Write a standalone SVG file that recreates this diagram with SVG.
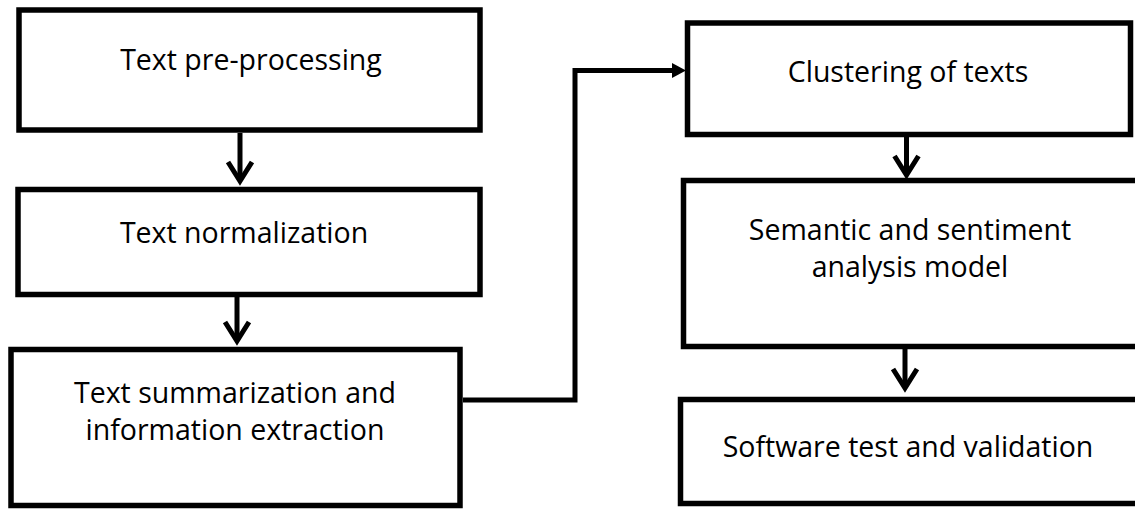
<svg xmlns="http://www.w3.org/2000/svg" width="1135" height="510" viewBox="0 0 1135 510">
<style>
.box{fill:#fff;stroke:#000;stroke-width:5.5}
.lbl{font-family:"Open Sans",Lato,sans-serif;font-size:28.5px;fill:#000;text-anchor:middle;font-variant-ligatures:none}
.ln{fill:none;stroke:#000;stroke-width:5;stroke-linejoin:miter}
.chev{fill:none;stroke:#000;stroke-width:5;stroke-linejoin:miter}
</style>
<rect width="1135" height="510" fill="#fff"/>
<g id="n1"><rect class="box" x="19" y="10" width="461" height="120"/><text class="lbl" x="251" y="70">Text pre-processing</text></g>
<g id="n2"><rect class="box" x="18" y="189.5" width="462" height="105"/><text class="lbl" x="244" y="243">Text normalization</text></g>
<g id="n3"><rect class="box" x="11" y="349.5" width="449" height="156"/><text class="lbl" x="235" y="403">Text summarization and</text><text class="lbl" x="235" y="440">information extraction</text></g>
<g id="n4"><rect class="box" x="687.5" y="23" width="443" height="111.5"/><text class="lbl" x="908" y="82">Clustering of texts</text></g>
<g id="n5"><rect class="box" x="683.5" y="180.5" width="500" height="166"/><text class="lbl" x="910" y="240">Semantic and sentiment</text><text class="lbl" x="910" y="277">analysis model</text></g>
<g id="n6"><rect class="box" x="680.5" y="399.5" width="500" height="104"/><text class="lbl" x="908" y="457">Software test and validation</text></g>
<g id="connectors">
<line class="ln" x1="240" y1="133" x2="240" y2="181"/><polyline class="chev" points="228,162 240,181 252,162"/>
<line class="ln" x1="237" y1="297" x2="237" y2="341"/><polyline class="chev" points="225,322 237,341 249,322"/>
<polyline class="ln" points="463,400 575,400 575,70.5 674,70.5"/><polygon points="672,63 686,70.5 672,78" fill="#000"/>
<line class="ln" x1="906.5" y1="137" x2="906.5" y2="175"/><polyline class="chev" points="894.5,156 906.5,175 918.5,156"/>
<line class="ln" x1="905" y1="349" x2="905" y2="388"/><polyline class="chev" points="893,369 905,388 917,369"/>
</g>
</svg>
